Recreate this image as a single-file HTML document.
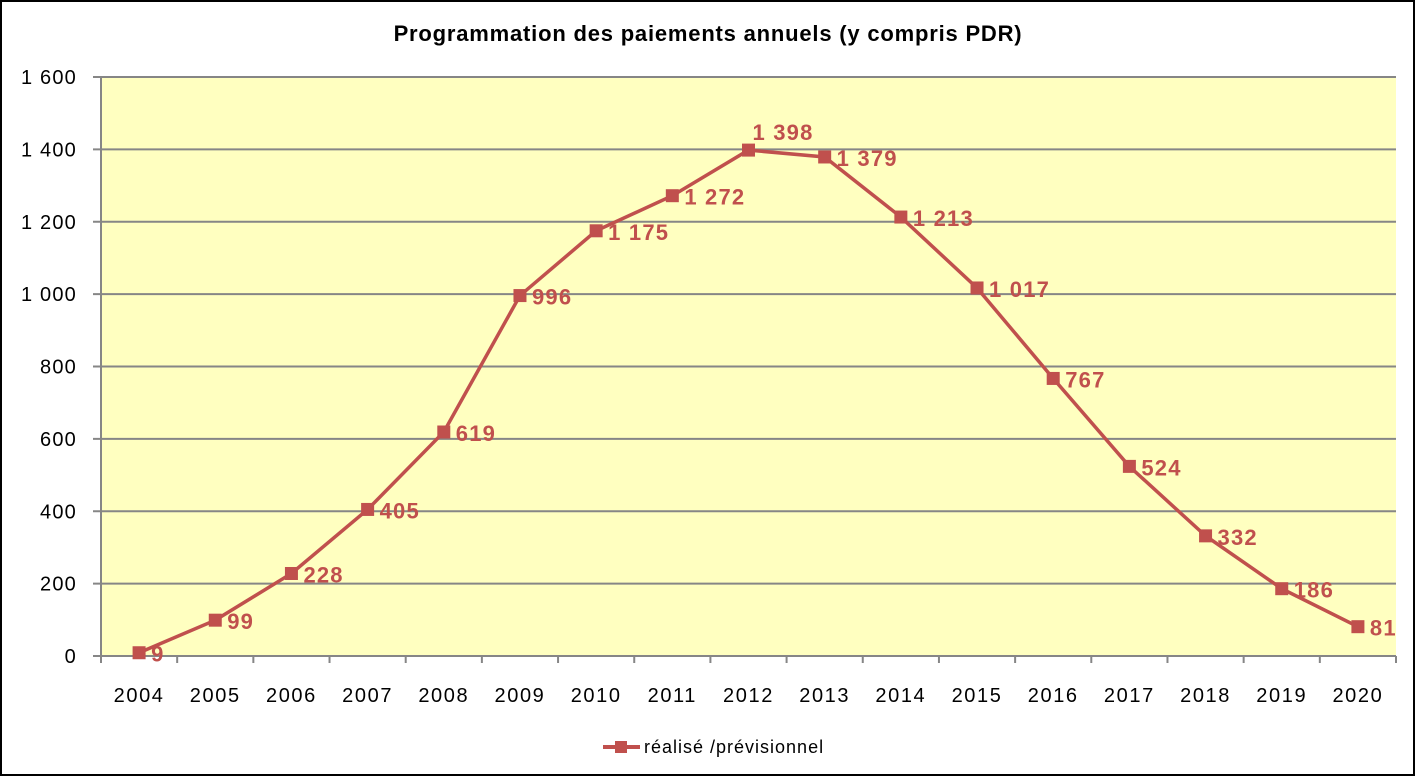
<!DOCTYPE html>
<html><head><meta charset="utf-8"><style>
html,body{margin:0;padding:0;background:#fff}
svg{display:block;font-family:"Liberation Sans","DejaVu Sans",sans-serif}
</style></head><body>
<svg id="chart" width="1416" height="777" viewBox="0 0 1416 777">
<rect x="1" y="1" width="1413" height="774" fill="#fff" stroke="#000" stroke-width="2"/>
<text x="708" y="41" text-anchor="middle" font-size="22" font-weight="bold" letter-spacing="0.8" fill="#000">Programmation des paiements annuels (y compris PDR)</text>
<rect x="101" y="77" width="1295" height="579" fill="#FFFFC0"/>
<g id="grid"></g><g id="axes"></g><g id="series"></g>
<g>
<line x1="603" y1="747" x2="640" y2="747" stroke="#C0504D" stroke-width="4"/>
<rect x="615" y="741" width="12" height="12" fill="#C0504D"/>
<text x="644" y="753" font-size="18" letter-spacing="1" fill="#000">réalisé /prévisionnel</text>
</g>
</svg>
<script>
const categories=["2004","2005","2006","2007","2008","2009","2010","2011","2012","2013","2014","2015","2016","2017","2018","2019","2020"];
const values=[9,99,228,405,619,996,1175,1272,1398,1379,1213,1017,767,524,332,186,81];
const valueLabels=["9","99","228","405","619","996","1 175","1 272","1 398","1 379","1 213","1 017","767","524","332","186","81"];
const yTicks=[0,200,400,600,800,1000,1200,1400,1600];
const yTickLabels=["0","200","400","600","800","1 000","1 200","1 400","1 600"];
const NS="http://www.w3.org/2000/svg";
const L=101,R=1396,T=77,B=656,YMAX=1600;
const bw=(R-L)/categories.length;
const x=i=>L+bw*(i+0.5);
const y=v=>B-(v/YMAX)*(B-T);
function mk(tag,attrs,parent){const e=document.createElementNS(NS,tag);for(const k in attrs)e.setAttribute(k,attrs[k]);parent.appendChild(e);return e;}
const grid=document.getElementById('grid'),axes=document.getElementById('axes'),ser=document.getElementById('series');
yTicks.forEach((t,i)=>{
  if(t>0){const g=mk('line',{x1:L,x2:R,y1:y(t),y2:y(t),stroke:'#868686','stroke-width':2},grid);
  
  }
  const tk=mk('line',{x1:L-8,x2:L,y1:y(t),y2:y(t),stroke:'#868686','stroke-width':2},axes);
  
  
  const tx=mk('text',{x:77,y:y(t)+7,'text-anchor':'end','font-size':20,'letter-spacing':1.2,fill:'#000'},axes);
  tx.textContent=yTickLabels[i];
  
  
});
const ya=mk('line',{x1:L,x2:L,y1:T,y2:B,stroke:'#868686','stroke-width':2},axes);


const xa=mk('line',{x1:L-8,x2:R,y1:B,y2:B,stroke:'#868686','stroke-width':2},axes);


for(let i=0;i<=categories.length;i++){
  const tk=mk('line',{x1:L+bw*i,x2:L+bw*i,y1:B,y2:B+7,stroke:'#868686','stroke-width':2},axes);
  
  
}
categories.forEach((c,i)=>{
  const tx=mk('text',{x:x(i),y:702,'text-anchor':'middle','font-size':20,'letter-spacing':1.6,fill:'#000'},axes);
  tx.textContent=c;
  
  
});
const pl=mk('polyline',{points:values.map((v,i)=>x(i)+','+y(v)).join(' '),fill:'none',stroke:'#C0504D','stroke-width':3.5},ser);


values.forEach((v,i)=>{
  const m=mk('rect',{x:x(i)-6.5,y:y(v)-6.5,width:13,height:13,fill:'#C0504D'},ser);
  
  
  const above=(i===8);
  const lx=above?x(i)+4:x(i)+12, ly=above?y(v)-10:y(v)+9;
  const t=mk('text',{x:lx,y:ly,'font-size':22,'font-weight':'bold','letter-spacing':1.2,fill:'#C0504D'},ser);
  t.textContent=valueLabels[i];
  
  
});
</script>
</body></html>
